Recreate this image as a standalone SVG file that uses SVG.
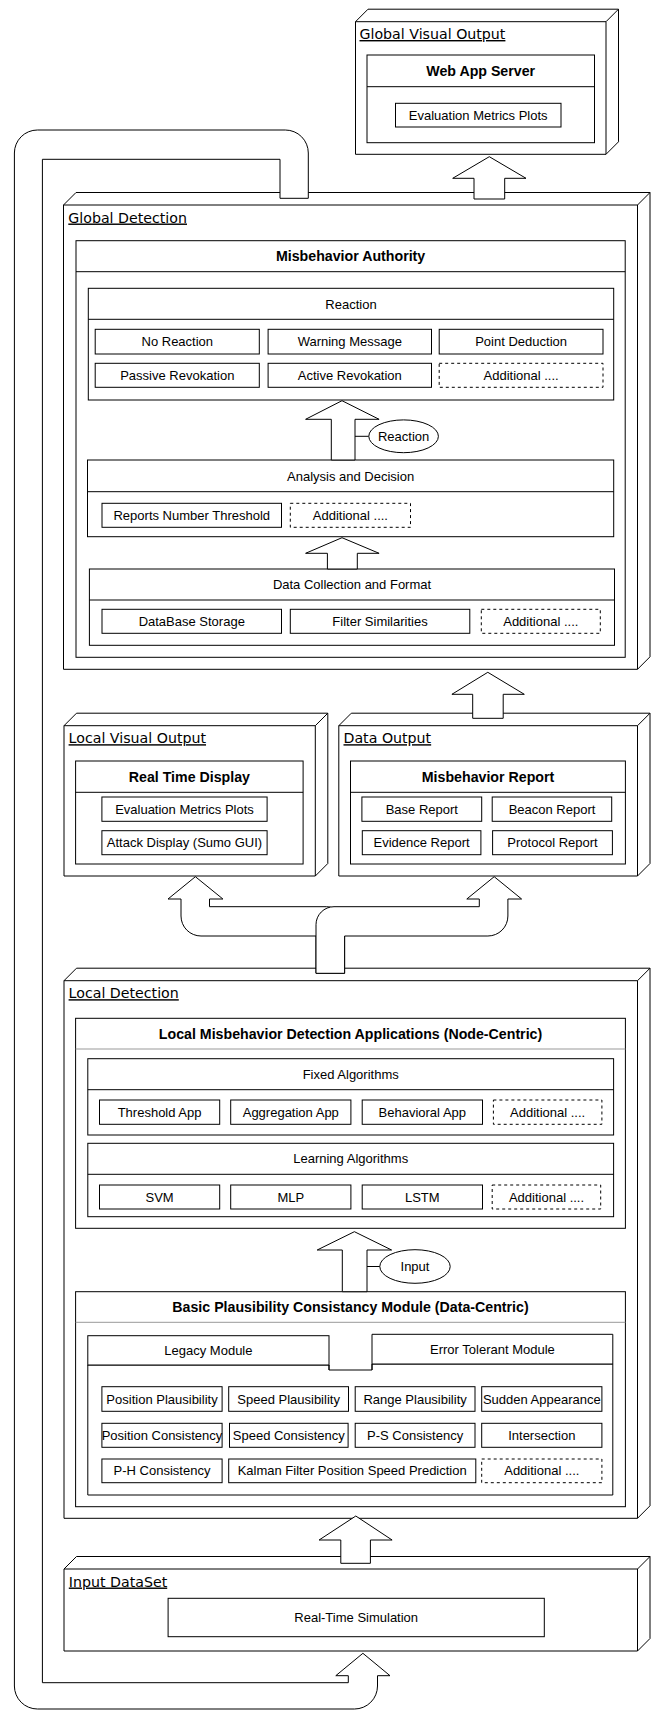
<svg xmlns="http://www.w3.org/2000/svg" width="654" height="1710" viewBox="0 0 654 1710">
<style>
.n{fill:#fff;stroke:#000;stroke-width:1}
.ln{fill:none;stroke:#000;stroke-width:1}
.d{fill:#fff;stroke:#000;stroke-width:1;stroke-dasharray:3 3}
.g{fill:none;stroke:#999;stroke-width:1}
.t{font-family:"Liberation Sans",Arial,sans-serif;font-size:13px;text-anchor:middle;fill:#000}
.b{font-family:"Liberation Sans",Arial,sans-serif;font-size:14.2px;font-weight:bold;text-anchor:middle;fill:#000}
.l{font-family:"DejaVu Sans",Verdana,sans-serif;font-size:14.2px;text-decoration:underline;fill:#000}
</style>
<rect width="654" height="1710" fill="#fff"/>

<g id="global-visual-output">
<path class="n" d="M355.5,21.7 L368,9.2 H618.5 V141.8 L606,154.3 H355.5 Z"/>
<path class="ln" d="M355.5,21.7 H606 L618.5,9.2 M606,21.7 V154.3"/>
<text class="l" x="359.5" y="39">Global Visual Output</text>
<rect class="n" x="367" y="55" width="227.5" height="87.7"/>
<line class="ln" x1="367" y1="86.7" x2="594.5" y2="86.7"/>
<text class="b" x="480.7" y="76">Web App Server</text>
<rect class="n" x="395.5" y="103.3" width="165.5" height="23.7"/>
<text class="t" x="478.2" y="119.7">Evaluation Metrics Plots</text>
</g>

<g id="global-detection">
<path class="n" d="M63.5,205 L76,192.5 H650 V656.8 L637.5,669.3 H63.5 Z"/>
<path class="ln" d="M63.5,205 H637.5 L650,192.5 M637.5,205 V669.3"/>
<text class="l" x="68.3" y="222.5">Global Detection</text>
<rect class="n" x="76" y="240.7" width="549.2" height="416.6"/>
<line class="ln" x1="76" y1="271.7" x2="625.2" y2="271.7"/>
<text class="b" x="350.6" y="261.3">Misbehavior Authority</text>

<g id="reaction">
<rect class="n" x="88.3" y="288.3" width="525.4" height="111.7"/>
<line class="ln" x1="88.3" y1="319.3" x2="613.7" y2="319.3"/>
<text class="t" x="351" y="308.5">Reaction</text>
<rect class="n" x="95.2" y="329.3" width="164.1" height="24.7"/>
<text class="t" x="177.3" y="346.3">No Reaction</text>
<rect class="n" x="268.1" y="329.3" width="163.4" height="24.7"/>
<text class="t" x="349.8" y="346.3">Warning Message</text>
<rect class="n" x="439.2" y="329.3" width="163.8" height="24.7"/>
<text class="t" x="521.1" y="346.3">Point Deduction</text>
<rect class="n" x="95.2" y="363.3" width="164.1" height="24"/>
<text class="t" x="177.3" y="379.9">Passive Revokation</text>
<rect class="n" x="268.1" y="363.3" width="163.4" height="24"/>
<text class="t" x="349.8" y="379.9">Active Revokation</text>
<rect class="d" x="439.2" y="363.3" width="163.8" height="24"/>
<text class="t" x="521.1" y="379.9">Additional ....</text>
</g>

<g id="analysis-decision">
<rect class="n" x="87.5" y="460" width="526.2" height="76.7"/>
<line class="ln" x1="87.5" y1="491.7" x2="613.7" y2="491.7"/>
<text class="t" x="350.6" y="480.5">Analysis and Decision</text>
<rect class="n" x="102" y="503.3" width="179.5" height="24"/>
<text class="t" x="191.75" y="519.9">Reports Number Threshold</text>
<rect class="d" x="290.3" y="503.3" width="120.2" height="24"/>
<text class="t" x="350.4" y="519.9">Additional ....</text>
</g>

<g id="data-collection">
<rect class="n" x="89.4" y="569" width="525.1" height="76.3"/>
<line class="ln" x1="89.4" y1="600" x2="614.5" y2="600"/>
<text class="t" x="352" y="589.1">Data Collection and Format</text>
<rect class="n" x="102" y="609.3" width="179.5" height="24"/>
<text class="t" x="191.75" y="625.9">DataBase Storage</text>
<rect class="n" x="290.3" y="609.3" width="179.5" height="24"/>
<text class="t" x="380" y="625.9">Filter Similarities</text>
<rect class="d" x="481.3" y="609.3" width="119" height="24"/>
<text class="t" x="540.8" y="625.9">Additional ....</text>
</g>

<g id="reaction-label">
<line class="ln" x1="355" y1="436.3" x2="368.8" y2="436.3"/>
<ellipse class="n" cx="403.6" cy="436.3" rx="34.8" ry="16.4"/>
<text class="t" x="403.6" y="440.9">Reaction</text>
</g>
</g>

<g id="local-visual-output">
<path class="n" d="M64,725.7 L76.5,713.2 H327.8 V863.5 L315.3,876 H64 Z"/>
<path class="ln" d="M64,725.7 H315.3 L327.8,713.2 M315.3,725.7 V876"/>
<text class="l" x="68.6" y="743.2">Local Visual Output</text>
<rect class="n" x="75.6" y="761" width="227.5" height="103"/>
<line class="ln" x1="75.6" y1="792.3" x2="303.1" y2="792.3"/>
<text class="b" x="189.4" y="781.8">Real Time Display</text>
<rect class="n" x="101.9" y="797" width="165.2" height="24.3"/>
<text class="t" x="184.5" y="813.7">Evaluation Metrics Plots</text>
<rect class="n" x="101.9" y="830.7" width="165.2" height="24"/>
<text class="t" x="184.5" y="847.3">Attack Display (Sumo GUI)</text>
</g>

<g id="data-output">
<path class="n" d="M338.8,725.7 L351.3,713.2 H650 V863.5 L637.5,876 H338.8 Z"/>
<path class="ln" d="M338.8,725.7 H637.5 L650,713.2 M637.5,725.7 V876"/>
<text class="l" x="343.5" y="743.2">Data Output</text>
<rect class="n" x="350.5" y="761" width="274.9" height="103"/>
<line class="ln" x1="350.5" y1="792.3" x2="625.4" y2="792.3"/>
<text class="b" x="488" y="781.8">Misbehavior Report</text>
<rect class="n" x="361.9" y="797" width="119.8" height="24.3"/>
<text class="t" x="421.8" y="813.7">Base Report</text>
<rect class="n" x="492.2" y="797" width="119.5" height="24.3"/>
<text class="t" x="552" y="813.7">Beacon Report</text>
<rect class="n" x="362.3" y="830.7" width="118.6" height="24"/>
<text class="t" x="421.6" y="847.3">Evidence Report</text>
<rect class="n" x="492.6" y="830.7" width="119.8" height="24"/>
<text class="t" x="552.5" y="847.3">Protocol Report</text>
</g>

<g id="local-detection">
<path class="n" d="M64,980.7 L76.5,968.2 H650 V1505.8 L637.5,1518.3 H64 Z"/>
<path class="ln" d="M64,980.7 H637.5 L650,968.2 M637.5,980.7 V1518.3"/>
<text class="l" x="68.6" y="998.2">Local Detection</text>

<g id="lmda">
<rect class="n" x="75.6" y="1018.3" width="549.8" height="210"/>
<line class="g" x1="75.6" y1="1049" x2="625.4" y2="1049"/>
<text class="b" x="350.5" y="1038.8">Local Misbehavior Detection Applications (Node-Centric)</text>
<rect class="n" x="87.8" y="1058.7" width="525.8" height="76.3"/>
<line class="ln" x1="87.8" y1="1089.7" x2="613.6" y2="1089.7"/>
<text class="t" x="350.7" y="1078.8">Fixed Algorithms</text>
<rect class="n" x="99.5" y="1100" width="120.2" height="24.3"/>
<text class="t" x="159.6" y="1116.8">Threshold App</text>
<rect class="n" x="230.7" y="1100" width="120.2" height="24.3"/>
<text class="t" x="290.8" y="1116.8">Aggregation App</text>
<rect class="n" x="362.2" y="1100" width="120.3" height="24.3"/>
<text class="t" x="422.3" y="1116.8">Behavioral App</text>
<rect class="d" x="493.4" y="1100" width="108.5" height="24.3"/>
<text class="t" x="547.6" y="1116.8">Additional ....</text>
<rect class="n" x="87.8" y="1143.3" width="525.8" height="73.4"/>
<line class="ln" x1="87.8" y1="1174.3" x2="613.6" y2="1174.3"/>
<text class="t" x="350.7" y="1163.4">Learning Algorithms</text>
<rect class="n" x="99.5" y="1185" width="120.2" height="24"/>
<text class="t" x="159.6" y="1201.6">SVM</text>
<rect class="n" x="230.7" y="1185" width="120.2" height="24"/>
<text class="t" x="290.8" y="1201.6">MLP</text>
<rect class="n" x="362.2" y="1185" width="120.3" height="24"/>
<text class="t" x="422.3" y="1201.6">LSTM</text>
<rect class="d" x="492.2" y="1185" width="108.5" height="24"/>
<text class="t" x="546.5" y="1201.6">Additional ....</text>
</g>

<g id="bpcm">
<rect class="n" x="75.6" y="1291.7" width="549.8" height="215"/>
<line class="g" x1="75.6" y1="1322.3" x2="625.4" y2="1322.3"/>
<text class="b" x="350.5" y="1312.1">Basic Plausibility Consistancy Module (Data-Centric)</text>
<path class="n" d="M87.8,1365 H329 V1370 H372 V1364 H612.8 V1495 H87.8 Z"/>
<rect class="n" x="87.8" y="1335.7" width="241.2" height="29.3"/>
<line class="ln" x1="329" y1="1365" x2="329" y2="1370"/>
<path class="n" d="M372,1370 V1334.3 H612.8 V1364 H372"/>
<text class="t" x="208.4" y="1354.9">Legacy Module</text>
<text class="t" x="492.4" y="1353.8">Error Tolerant Module</text>
<rect class="n" x="101.9" y="1386.7" width="120.2" height="24.6"/>
<text class="t" x="162" y="1403.6">Position Plausibility</text>
<rect class="n" x="228.7" y="1386.7" width="119.8" height="24.6"/>
<text class="t" x="288.6" y="1403.6">Speed Plausibility</text>
<rect class="n" x="355.2" y="1386.7" width="119.8" height="24.6"/>
<text class="t" x="415.1" y="1403.6">Range Plausibility</text>
<rect class="n" x="481.7" y="1386.7" width="120.2" height="24.6"/>
<text class="t" x="541.8" y="1403.6">Sudden Appearance</text>
<rect class="n" x="101.9" y="1423.3" width="120.2" height="24"/>
<text class="t" x="162" y="1439.9">Position Consistency</text>
<rect class="n" x="229.5" y="1423.3" width="118.6" height="24"/>
<text class="t" x="288.8" y="1439.9">Speed Consistency</text>
<rect class="n" x="355.2" y="1423.3" width="119.8" height="24"/>
<text class="t" x="415.1" y="1439.9">P-S Consistency</text>
<rect class="n" x="481.7" y="1423.3" width="120.2" height="24"/>
<text class="t" x="541.8" y="1439.9">Intersection</text>
<rect class="n" x="101.9" y="1459" width="120.2" height="23.7"/>
<text class="t" x="162" y="1475.4">P-H Consistency</text>
<rect class="n" x="228.7" y="1459" width="247.1" height="23.7"/>
<text class="t" x="352.2" y="1475.4">Kalman Filter Position Speed Prediction</text>
<rect class="d" x="481.7" y="1459" width="120.2" height="23.7"/>
<text class="t" x="541.8" y="1475.4">Additional ....</text>
</g>

<g id="input-label">
<line class="ln" x1="367" y1="1266.5" x2="379.9" y2="1266.5"/>
<ellipse class="n" cx="415" cy="1266.5" rx="35.2" ry="16.8"/>
<text class="t" x="415" y="1271.1">Input</text>
</g>
</g>

<g id="input-dataset">
<path class="n" d="M64,1569 L76.5,1556.5 H650 V1638.5 L637.5,1651 H64 Z"/>
<path class="ln" d="M64,1569 H637.5 L650,1556.5 M637.5,1569 V1651"/>
<text class="l" x="68.8" y="1586.5">Input DataSet</text>
<rect class="n" x="168.1" y="1598.3" width="376.2" height="38.4"/>
<text class="t" x="356.2" y="1622.1">Real-Time Simulation</text>
</g>

<g id="connectors">
<path class="n" d="M474,199 V178.3 H452.7 L489.3,156.7 L526,178.3 H504.7 V199 Z"/>
<path class="n" d="M331.3,460 V419.3 H305.6 L342,400.7 L379.1,419.3 H355 V460 Z"/>
<path class="n" d="M327.4,569 V553.3 H305.6 L342,537.7 L379.1,553.3 H357.3 V569 Z"/>
<path class="n" d="M472.7,718.3 V694.3 H451.9 L487.8,672.3 L524.3,694.3 H503.2 V718.3 Z"/>
<path class="n" d="M316,973.3 V936 H201 A20 20 0 0 1 181,916 V899 H168 L195.4,876.7 L222.9,899 H209.5 V906.7 H326.6 A18 18 0 0 1 344.6,924.7 V973.3 Z"/>
<path class="n" d="M344.6,973.3 V936 H487.9 A20 20 0 0 0 507.9,916 V899 H521.6 L494.2,876.7 L466.8,899 H479.3 V906.7 H334 A18 18 0 0 0 316,924.7 V973.3 Z"/>
<path class="n" d="M342.3,1291.7 V1250 H317.2 L354.4,1231.7 L391.6,1250 H367 V1291.7 Z"/>
<path class="n" d="M340.8,1563.3 V1540 H319.1 L355.8,1516 L392.1,1540 H370.4 V1563.3 Z"/>
<path class="n" d="M280,198.3 V159.3 H42.4 V1682.7 H348.3 V1675.7 H335.8 L362.9,1653.3 L390,1675.7 H377.5 V1686 A23 23 0 0 1 354.5,1709 H37.4 A23 23 0 0 1 14.4,1686 V153 A23 23 0 0 1 37.4,130 H285.3 A23 23 0 0 1 308.3,153 V198.3 Z"/>
</g>
</svg>
